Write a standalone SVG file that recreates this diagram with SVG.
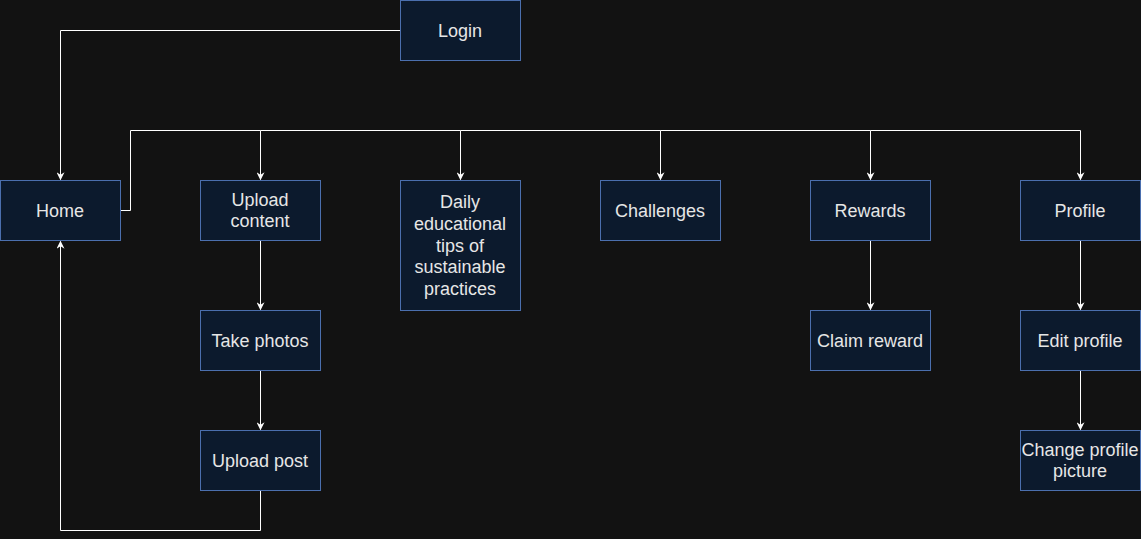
<svg xmlns="http://www.w3.org/2000/svg" width="1141" height="539" viewBox="0 0 1141 539">
<defs>
<marker id="ah" viewBox="0 0 10 10" refX="9" refY="5" markerWidth="8" markerHeight="8" markerUnits="userSpaceOnUse" orient="auto">
<path d="M0,0 L10,5 L0,10 L3,5 Z" fill="#ffffff"/>
</marker>
<style>
.n rect{fill:#0c1a2d;stroke:#4b6fae;stroke-width:1}
.n text{fill:#e6e6e6;font-family:"Liberation Sans",Arial,sans-serif;font-size:18px;text-anchor:middle}
.c path{fill:none;stroke:#ffffff;stroke-width:1;marker-end:url(#ah)}
</style>
</defs>
<rect width="1141" height="539" fill="#121212"/>
<g id="connectors" class="c">
<path d="M400.5,30.5 H60.5 V179.5"/>
<path d="M120.5,210.5 H130.5 V130.5 H260.5 V179.5"/>
<path d="M260.5,130.5 H460.5 V179.5"/>
<path d="M460.5,130.5 H660.5 V179.5"/>
<path d="M660.5,130.5 H870.5 V179.5"/>
<path d="M870.5,130.5 H1080.5 V179.5"/>
<path d="M260.5,240.5 V309.5"/>
<path d="M260.5,370.5 V429.5"/>
<path d="M260.5,490.5 V530.5 H60.5 V241.5"/>
<path d="M870.5,240.5 V309.5"/>
<path d="M1080.5,240.5 V309.5"/>
<path d="M1080.5,370.5 V429.5"/>
</g>
<g id="login" class="n"><rect x="400.5" y="0.5" width="120" height="60"/><text x="460" y="37">Login</text></g>
<g id="home" class="n"><rect x="0.5" y="180.5" width="120" height="60"/><text x="60" y="217">Home</text></g>
<g id="upload-content" class="n"><rect x="200.5" y="180.5" width="120" height="60"/><text x="260" y="206">Upload</text><text x="260" y="227">content</text></g>
<g id="daily-tips" class="n"><rect x="400.5" y="180.5" width="120" height="130"/><text x="460" y="208">Daily</text><text x="460" y="230">educational</text><text x="460" y="252">tips of</text><text x="460" y="273">sustainable</text><text x="460" y="295">practices</text></g>
<g id="challenges" class="n"><rect x="600.5" y="180.5" width="120" height="60"/><text x="660" y="217">Challenges</text></g>
<g id="rewards" class="n"><rect x="810.5" y="180.5" width="120" height="60"/><text x="870" y="217">Rewards</text></g>
<g id="profile" class="n"><rect x="1020.5" y="180.5" width="120" height="60"/><text x="1080" y="217">Profile</text></g>
<g id="take-photos" class="n"><rect x="200.5" y="310.5" width="120" height="60"/><text x="260" y="347">Take photos</text></g>
<g id="upload-post" class="n"><rect x="200.5" y="430.5" width="120" height="60"/><text x="260" y="467">Upload post</text></g>
<g id="claim-reward" class="n"><rect x="810.5" y="310.5" width="120" height="60"/><text x="870" y="347">Claim reward</text></g>
<g id="edit-profile" class="n"><rect x="1020.5" y="310.5" width="120" height="60"/><text x="1080" y="347">Edit profile</text></g>
<g id="change-picture" class="n"><rect x="1020.5" y="430.5" width="120" height="60"/><text x="1080" y="456">Change profile</text><text x="1080" y="477">picture</text></g>
</svg>
